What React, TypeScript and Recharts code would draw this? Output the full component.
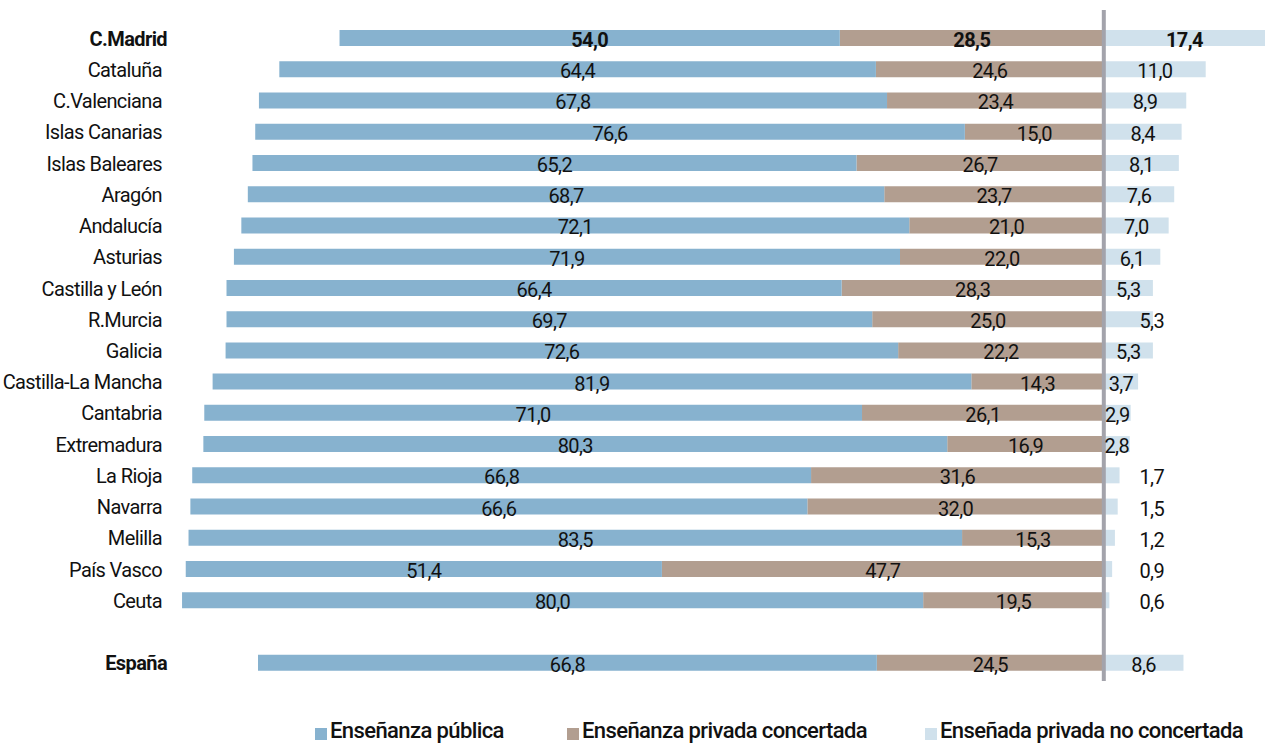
import React from 'react';
import { BarChart, Bar, XAxis, YAxis, LabelList, ReferenceLine } from 'recharts';

const regions = [
  'C.Madrid', 'Cataluña', 'C.Valenciana', 'Islas Canarias', 'Islas Baleares', 'Aragón',
  'Andalucía', 'Asturias', 'Castilla y León', 'R.Murcia', 'Galicia', 'Castilla-La Mancha',
  'Cantabria', 'Extremadura', 'La Rioja', 'Navarra', 'Melilla', 'País Vasco', 'Ceuta', '', 'España'
];
const publica = [54.0, 64.4, 67.8, 76.6, 65.2, 68.7, 72.1, 71.9, 66.4, 69.7, 72.6, 81.9, 71.0, 80.3, 66.8, 66.6, 83.5, 51.4, 80.0, null, 66.8];
const concertada = [28.5, 24.6, 23.4, 15.0, 26.7, 23.7, 21.0, 22.0, 28.3, 25.0, 22.2, 14.3, 26.1, 16.9, 31.6, 32.0, 15.3, 47.7, 19.5, null, 24.5];
const noConcertada = [17.4, 11.0, 8.9, 8.4, 8.1, 7.6, 7.0, 6.1, 5.3, 5.3, 5.3, 3.7, 2.9, 2.8, 1.7, 1.5, 1.2, 0.9, 0.6, null, 8.6];
const highlighted = ['C.Madrid', 'España'];
const outsideLabels = ['R.Murcia'];
const seriesNames = ['Enseñanza pública', 'Enseñanza privada concertada', 'Enseñada privada no concertada'];

const COLORS = { pub: '#87b2cf', conc: '#b29e90', priv: '#d0e1ec' };
const FONT = "Roboto, 'Liberation Sans', sans-serif";

const data = regions.map((name, i) => ({
  name,
  conc: concertada[i] == null ? null : -concertada[i],
  pub: publica[i] == null ? null : -publica[i],
  priv: noConcertada[i],
}));

const fmt = (v: number) => Math.abs(v).toFixed(1).replace('.', ',');

const makeLabel = (kind: string) => (props: any) => {
  const { x, y, width, height, value, index } = props;
  if (value == null) return null;
  const name = regions[index];
  const bold = highlighted.includes(name);
  const left = Math.min(x, x + width);
  const w = Math.abs(width);
  let cx = left + w / 2;
  if (kind === 'priv' && (Math.abs(value) < 2 || outsideLabels.includes(name))) {
    cx = left + 48;
  }
  return (
    <text x={cx} y={y + height / 2 + 2} textAnchor="middle" dominantBaseline="central"
      fontFamily={FONT} fontSize={20} letterSpacing={-0.6} fontWeight={bold ? 'bold' : 'normal'} fill="#111">
      {fmt(value)}
    </text>
  );
};

const RegionTick = (props: any) => {
  const { x, y, payload } = props;
  const bold = highlighted.includes(payload.value);
  return (
    <text x={x + (bold ? 5 : 0)} y={y + 1} textAnchor="end" dominantBaseline="central"
      fontFamily={FONT} fontSize={20} letterSpacing={-0.6} fontWeight={bold ? 'bold' : 'normal'} fill="#111">
      {payload.value}
    </text>
  );
};

const ZeroLine = (props: any) => {
  const { x1, y1, y2 } = props;
  return <line x1={x1} x2={x1} y1={Math.min(y1, y2) - 12} y2={Math.max(y1, y2) + 3} stroke="#a3a3ab" strokeWidth={4} />;
};

export default function App() {
  const legendColors = [COLORS.pub, COLORS.conc, COLORS.priv];
  const legendLeft = [315, 567, 925];
  return (
    <div style={{ position: 'absolute', left: 0, top: 0, width: 1265, height: 743, background: '#fff', fontFamily: FONT }}>
      <BarChart width={1265} height={700} data={data} layout="vertical" stackOffset="sign"
        margin={{ top: 22, right: 0, bottom: 22, left: 0 }} barSize={16}>
        <XAxis type="number" hide domain={[-100.8, 17.4]} allowDataOverflow />
        <YAxis type="category" dataKey="name" width={170} axisLine={false} tickLine={false}
          interval={0} tick={<RegionTick />} />
        <Bar dataKey="conc" stackId="a" fill={COLORS.conc} isAnimationActive={false}>
          <LabelList dataKey="conc" content={makeLabel('conc')} />
        </Bar>
        <Bar dataKey="pub" stackId="a" fill={COLORS.pub} isAnimationActive={false}>
          <LabelList dataKey="pub" content={makeLabel('pub')} />
        </Bar>
        <Bar dataKey="priv" stackId="a" fill={COLORS.priv} isAnimationActive={false}>
          <LabelList dataKey="priv" content={makeLabel('priv')} />
        </Bar>
        <ReferenceLine x={0} shape={ZeroLine} />
      </BarChart>
      {seriesNames.map((s, i) => (
        <div key={s} style={{ position: 'absolute', left: legendLeft[i], top: 719, display: 'flex', alignItems: 'center', whiteSpace: 'nowrap' }}>
          <span style={{ display: 'inline-block', width: 12, height: 12, background: legendColors[i], marginRight: 3, marginTop: 5 }} />
          <span style={{ fontSize: 22, color: '#111', lineHeight: '24px', letterSpacing: -0.6, fontWeight: 500 }}>{s}</span>
        </div>
      ))}
    </div>
  );
}
